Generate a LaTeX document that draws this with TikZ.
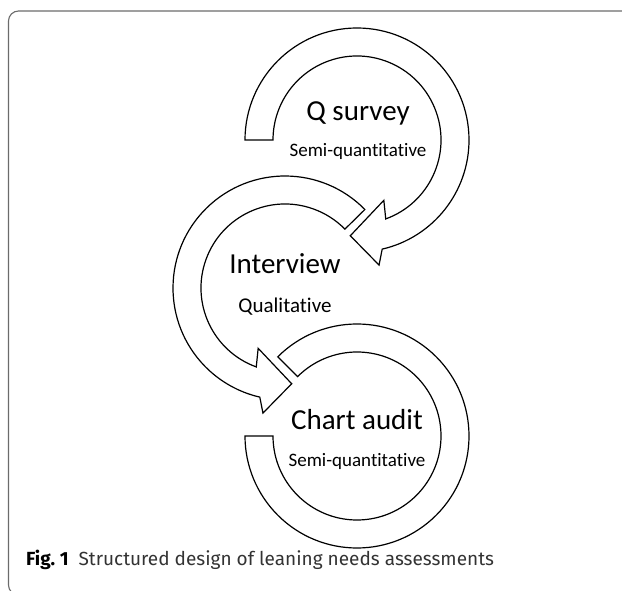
\documentclass[tikz,border=0pt]{standalone}
\usepackage{fontspec}
\setmainfont{Carlito}[Ligatures=NoCommon]
\newfontfamily\capfont{Fira Sans}
\usetikzlibrary{calc}
\definecolor{lnaInk}{HTML}{000000}
\definecolor{lnaFrame}{HTML}{6B6B6B}
\definecolor{lnaCaption}{HTML}{333333}
\tikzset{
    loopband/.style={draw=lnaInk, line width=1.2pt, fill=white, line join=miter},
    steptitle/.style={font=\fontsize{29}{34}\selectfont, anchor=base, inner sep=0pt},
    stepnote/.style={font=\fontsize{19}{23}\selectfont, anchor=base, inner sep=0pt},
    panelframe/.style={draw=lnaFrame, line width=1.1pt, rounded corners=10pt},
    figcaption/.style={font=\capfont\fontsize{19}{23}\selectfont, anchor=base west, inner sep=0pt}
}
\begin{document}
\begin{tikzpicture}[x=1pt,y=1pt]
\useasboundingbox (0,0) rectangle (622,590);
\begin{scope}
  \clip (0,0) rectangle (622,590);
  \draw[panelframe] (8.5,-5) rectangle (650,579);
\end{scope}
\coordinate (Q) at (357,450);
\coordinate (I) at (285,302);
\coordinate (C) at (357,154);
% three bands, two with heads
\draw[loopband] ($(Q)+(180:112)$) arc[start angle=180, end angle=-77, radius=112]
  -- ($(Q)+(-80:127)$) -- ($(Q)+(-94:96)$) -- ($(Q)+(-66:66)$)
  -- ($(Q)+(-70:84)$) arc[start angle=-70, end angle=180, radius=84] -- cycle;
\draw[loopband] ($(I)+(44.5:112)$) arc[start angle=44.5, end angle=257, radius=112]
  -- ($(I)+(260:127)$) -- ($(I)+(274:96)$) -- ($(I)+(246:66)$)
  -- ($(I)+(250:84)$) arc[start angle=250, end angle=44.5, radius=84] -- cycle;
\draw[loopband] ($(C)+(135:112)$) arc[start angle=135, end angle=-180, radius=112]
  -- ($(C)+(180:84)$) arc[start angle=-180, end angle=135, radius=84] -- cycle;
\node[steptitle] (qtitle) at (358,469) {Q survey};
\node[stepnote] (qnote) at (358,433) {Semi-quantitative};
\node[steptitle] (ititle) at (285,316) {Interview};
\node[stepnote, font=\fontsize{21}{25}\selectfont] (inote) at (285,277) {Qualitative};
\node[steptitle] (ctitle) at (357,160) {Chart audit};
\node[stepnote] (cnote) at (357,123) {Semi-quantitative};
\node[figcaption] (caption) at (26,25) {\textbf{Fig.~1}\hspace{10pt}\textcolor{lnaCaption}{Structured design of leaning needs assessments}};
\end{tikzpicture}
\end{document}
